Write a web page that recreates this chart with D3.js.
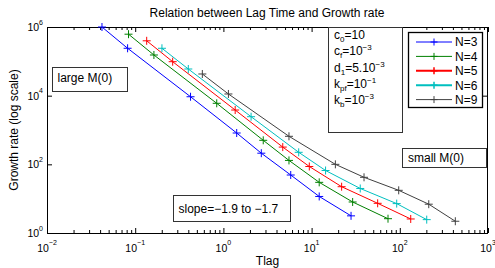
<!DOCTYPE html>
<html><head><meta charset="utf-8">
<script src="https://cdn.jsdelivr.net/npm/d3@7"></script>
<style>body{margin:0;background:#fff}svg{display:block;font-family:"Liberation Sans",Arial,sans-serif}</style>
</head><body><svg id="c" width="495" height="268"></svg>
<script>
const seriesNames = ["N=3","N=4","N=5","N=6","N=9"];
const seriesColors = ["#0000ff","#008000","#ff0000","#00bfbf","#404040"];
const tlagN3 = [0.042,0.082,0.424,1.415,2.69,5.80,12.2,28.0];
const rateN3 = [1.0e6,2.4e5,9.3e3,817,211,48.9,11.6,3.16];
const tlagN4 = [0.084,0.163,0.840,2.83,5.54,12.2,29.2,73.5];
const rateN4 = [6.17e5,1.53e5,5.99e3,501,130,29.9,8.0,2.61];
const tlagN5 = [0.135,0.266,1.36,4.71,9.42,21.9,56.1,133];
const rateN5 = [3.96e5,9.76e4,3.82e3,318,86.5,22.3,7.33,2.56];
const tlagN6 = [0.201,0.400,2.06,7.14,14.4,35.6,92.2,202];
const rateN6 = [2.4e5,5.98e4,2.44e3,224,66.1,19.8,7.18,2.45];
const tlagN9 = [0.577,1.14,5.54,18.6,39.3,97.2,213,426];
const rateN9 = [4.28e4,1.12e4,655,100,41.9,17.5,6.9,2.2];
const xTickExp = [-2,-1,0,1,2,3];
const yTickExp = [0,2,4,6];
const titleText = "Relation between Lag Time and Growth rate";
const xLabel = "Tlag", yLabel = "Growth rate (log scale)";
const paramLines = [["c","0","=10",""],["c","f","=10","−3"],["d","1","=5.10","−3"],["k","pf","=10","−1"],["k","b","=10","−3"]];

const X = [tlagN3,tlagN4,tlagN5,tlagN6,tlagN9], Y = [rateN3,rateN4,rateN5,rateN6,rateN9];
const svg = d3.select("#c");
const L=47,R=488,T=27,B=233;
const x = d3.scaleLog().domain([1e-2,1e3]).range([L,R]);
const y = d3.scaleLog().domain([1,1e6]).range([B,T]);

// axes
const majorX = xTickExp.map(e=>Math.pow(10,e));
const minorX = [];
for(let e=-2;e<3;e++) for(let m=2;m<10;m++) minorX.push(m*Math.pow(10,e));
const majorY = yTickExp.map(e=>Math.pow(10,e));
function ax(gen, tr, vals, size){
  const g = svg.append("g").attr("transform",tr).call(gen.tickValues(vals).tickSize(size).tickFormat(""));
  g.select(".domain").remove();
  g.selectAll("line").attr("stroke","#000").attr("stroke-width",1);
}
ax(d3.axisBottom(x),`translate(0,${B})`,majorX,-5);
ax(d3.axisBottom(x),`translate(0,${B})`,minorX,-3);
ax(d3.axisTop(x),`translate(0,${T})`,majorX,-5);
ax(d3.axisTop(x),`translate(0,${T})`,minorX,-3);
ax(d3.axisLeft(y),`translate(${L},0)`,majorY,-5);
ax(d3.axisRight(y),`translate(${R},0)`,majorY,-5);
svg.append("rect").attr("x",L+0.5).attr("y",T+0.5).attr("width",R-L-1).attr("height",B-T).attr("fill","none").attr("stroke","#000");

// tick labels
xTickExp.forEach(e=>{
  const t = svg.append("text").attr("x",x(Math.pow(10,e))).attr("y",251.5).attr("text-anchor","middle").attr("font-size",10.5);
  t.append("tspan").text("10");
  t.append("tspan").attr("dy",-6.5).attr("font-size",7).text(e<0?"−"+(-e):String(e));
});
yTickExp.forEach(e=>{
  const t = svg.append("text").attr("x",43).attr("y",y(Math.pow(10,e))+4).attr("text-anchor","end").attr("font-size",10.5);
  t.append("tspan").text("10");
  t.append("tspan").attr("dy",-6.5).attr("font-size",7).text(String(e));
});

// title & labels
svg.append("text").attr("x",267).attr("y",17).attr("text-anchor","middle").attr("font-size",12).text(titleText);
svg.append("text").attr("x",267.5).attr("y",265).attr("text-anchor","middle").attr("font-size",12).text(xLabel);
svg.append("text").attr("transform","translate(17.5,130) rotate(-90)").attr("text-anchor","middle").attr("font-size",12).text(yLabel);

// series
const line = d3.line().x(d=>x(d[0])).y(d=>y(d[1]));
function plus(g, cx, cy, col, s, sw){
  g.append("path").attr("d",`M${cx-s},${cy}H${cx+s}M${cx},${cy-s}V${cy+s}`).attr("stroke",col).attr("stroke-width",sw||1).attr("fill","none");
}
X.forEach((xs,i)=>{
  const pts = xs.map((v,j)=>[v,Y[i][j]]);
  const g = svg.append("g");
  g.append("path").attr("d",line(pts)).attr("fill","none").attr("stroke",seriesColors[i]).attr("stroke-width",1);
  pts.forEach(p=>plus(g,x(p[0]),y(p[1]),seriesColors[i],4));
});

// annotation boxes
function box(x0,y0,w,h){
  svg.append("rect").attr("x",x0+0.5).attr("y",y0+0.5).attr("width",w).attr("height",h).attr("fill","#fff").attr("stroke","#333").attr("stroke-width",1);
}
box(52,67,75,24);
svg.append("text").attr("x",57.5).attr("y",82).attr("font-size",12).text("large M(0)");
box(402,148,84,19);
svg.append("text").attr("x",408).attr("y",162).attr("font-size",12).text("small M(0)");
box(173,195,117,26);
svg.append("text").attr("x",178.5).attr("y",213).attr("font-size",12).text("slope=−1.9 to −1.7");
box(328,27,74,105);
paramLines.forEach((p,i)=>{
  const t = svg.append("text").attr("x",334).attr("y",39+i*16.3).attr("font-size",12);
  t.append("tspan").text(p[0]);
  t.append("tspan").attr("dy",3).attr("font-size",8).text(p[1]);
  t.append("tspan").attr("dy",-3).text(p[2]);
  if(p[3]) t.append("tspan").attr("dy",-5).attr("font-size",8).text(p[3]);
});

// legend
svg.append("rect").attr("x",408.5).attr("y",32.5).attr("width",74).attr("height",75).attr("fill","#fff").attr("stroke","#000").attr("stroke-width",1.3);
seriesNames.forEach((n,i)=>{
  const yy = 42+i*14.4;
  const sw = (i===2||i===3)?2:1;
  svg.append("line").attr("x1",416).attr("x2",452).attr("y1",yy).attr("y2",yy).attr("stroke",seriesColors[i]).attr("stroke-width",sw);
  plus(svg,434,yy,seriesColors[i],3.5,sw===2?1.5:1);
  svg.append("text").attr("x",455).attr("y",yy+4.3).attr("font-size",12).text(n);
});
</script></body></html>
